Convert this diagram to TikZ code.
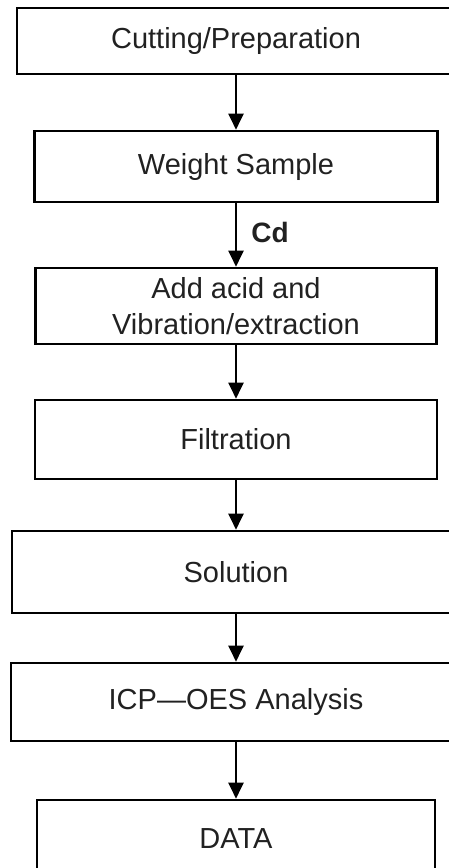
\documentclass[tikz,border=0pt]{standalone}
\usepackage{fontspec}
\setmainfont{Liberation Sans}
\usetikzlibrary{arrows.meta}
\definecolor{txtgray}{rgb}{0.13,0.13,0.13}

\begin{document}
\begin{tikzpicture}[x=1pt, y=-1pt, font=\fontsize{29}{36}\selectfont,
    stepbox/.style={draw, line width=2.6pt, inner sep=0pt, align=center, text=txtgray},
    flow/.style={line width=2pt, -{Triangle[length=16pt,width=15pt]}}]
    \useasboundingbox (0,0) rectangle (449,868);
    \clip (0,0) rectangle (449,868);
    \node[stepbox, minimum width=438pt, minimum height=66pt] (s1) at (236,41) {Cutting/Preparation};
    \node[stepbox, minimum width=403pt, minimum height=71pt] (s2) at (236,166.5) {Weight Sample};
    \node[stepbox, minimum width=401pt, minimum height=76pt] (s3) at (236,306) {Add acid and\\Vibration/extraction};
    \node[stepbox, minimum width=402pt, minimum height=79pt] (s4) at (236,439.5) {Filtration};
    \node[stepbox, minimum width=448pt, minimum height=82pt] (s5) at (236,572) {Solution};
    \node[stepbox, minimum width=450pt, minimum height=78pt] (s6) at (236,702) {ICP—OES Analysis};
    \node[stepbox, minimum width=398pt, minimum height=78pt] (s7) at (236,839) {DATA};
    \draw[flow] (s1) -- (s2);
    \draw[flow] (s2) edge node[right=11pt, yshift=3pt, text=txtgray, font=\bfseries\fontsize{28}{34}\selectfont]{Cd} (s3);
    \draw[flow] (s3) -- (s4);
    \draw[flow] (s4) -- (s5);
    \draw[flow] (s5) -- (s6);
    \draw[flow] (s6) -- (s7);
\end{tikzpicture}
\end{document}
